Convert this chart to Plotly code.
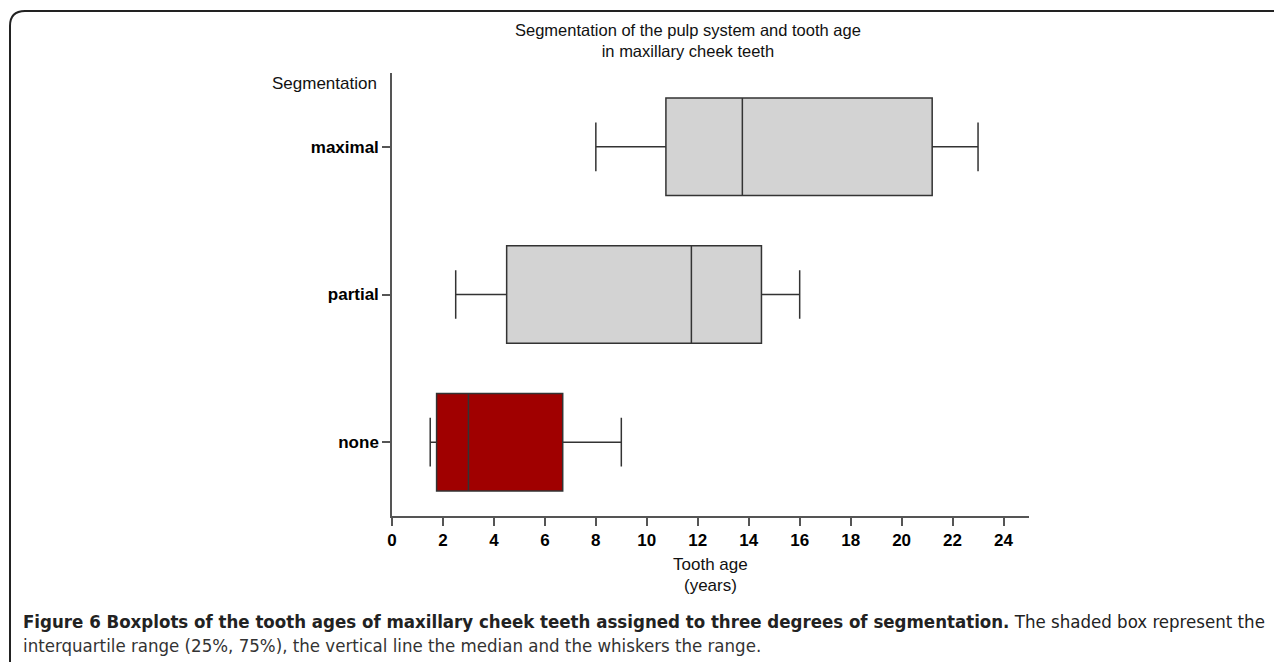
import plotly.graph_objects as go

# ---- data ----
categories = ["none", "partial", "maximal"]
q1_vals = [1.75, 4.5, 10.75]
median_vals = [3.0, 11.75, 13.75]
q3_vals = [6.7, 14.5, 21.2]
low_vals = [1.5, 2.5, 8.0]
high_vals = [9.0, 16.0, 23.0]
fill_colors = ["#a00000", "#d3d3d3", "#d3d3d3"]
x_ticks = list(range(0, 25, 2))

# page offset (body margin) compensation
OFF = 8
W, H = 1282 - OFF, 662 - OFF
L, R, T, B = 392 - OFF, 1029 - OFF, 73 - OFF, 516 - OFF


def px(x):
    return (x - OFF - L) / (R - L)


def py(y):
    return (B - (y - OFF)) / (B - T)


fig = go.Figure()
for i, cat in enumerate(categories):
    fig.add_trace(go.Box(
        y=[cat], q1=[q1_vals[i]], median=[median_vals[i]], q3=[q3_vals[i]],
        lowerfence=[low_vals[i]], upperfence=[high_vals[i]],
        orientation="h", fillcolor=fill_colors[i],
        line=dict(color="#333333", width=1.5),
        width=0.66, whiskerwidth=0.5, boxpoints=False,
        showlegend=False, hoverinfo="skip",
    ))

FONT = "Liberation Sans, Arial, sans-serif"
axis_font = dict(family=FONT, size=17, color="#000000")

fig.update_layout(
    width=W, height=H,
    margin=dict(l=L, r=W - R, t=T, b=H - B, pad=0),
    paper_bgcolor="white", plot_bgcolor="white",
    boxmode="overlay",
    xaxis=dict(
        range=[0, 25], tickvals=x_ticks,
        ticktext=[f"<b>{v}</b>" for v in x_ticks],
        showline=True, linecolor="#555555", linewidth=1.5,
        ticks="outside", ticklen=8, tickcolor="#555555", tickwidth=1.5,
        showgrid=False, zeroline=False, tickfont=axis_font,
    ),
    yaxis=dict(
        type="category", categoryorder="array", categoryarray=categories,
        range=[-0.5, 2.5], tickvals=categories,
        ticktext=[f"<b>{c}</b>" for c in categories],
        showline=True, linecolor="#555555", linewidth=1.5,
        ticks="outside", ticklen=8, tickcolor="#555555", tickwidth=1.5,
        showgrid=False, zeroline=False, tickfont=axis_font,
    ),
    font=dict(family=FONT, color="#111111"),
)

# frame (rounded top-left corner)
fig.add_shape(
    type="path", xref="paper", yref="paper",
    path=(f"M {px(10)},{py(670)} L {px(10)},{py(26)} "
          f"Q {px(10)},{py(11)} {px(25)},{py(11)} L {px(1290)},{py(11)}"),
    line=dict(color="#222222", width=2),
)

txt_font = dict(family=FONT, size=17, color="#111111")
# chart title
fig.add_annotation(
    text="Segmentation of the pulp system and tooth age<br>in maxillary cheek teeth",
    xref="paper", yref="paper", x=px(688), y=py(40), xanchor="center", yanchor="middle",
    showarrow=False, font=dict(family=FONT, size=16.5, color="#111111"),
)
# y label
fig.add_annotation(
    text="Segmentation", xref="paper", yref="paper", x=px(379), y=py(84),
    xanchor="right", yanchor="middle", showarrow=False, font=txt_font,
)
# x title
fig.add_annotation(
    text="Tooth age", xref="paper", yref="paper", x=0.5, y=py(564),
    xanchor="center", yanchor="middle", showarrow=False, font=txt_font,
)
fig.add_annotation(
    text="(years)", xref="paper", yref="paper", x=0.5, y=py(585),
    xanchor="center", yanchor="middle", showarrow=False, font=txt_font,
)
# caption
cap_font = "DejaVu Sans Condensed, Open Sans, sans-serif"
fig.add_annotation(
    text=("<b>Figure 6 Boxplots of the tooth ages of maxillary cheek teeth assigned to "
          "three degrees of segmentation.</b> The shaded box represent the"),
    xref="paper", yref="paper", x=px(21), y=py(621), xanchor="left", yanchor="middle",
    showarrow=False, font=dict(family=cap_font, size=18.5, color="#222222"),
)
fig.add_annotation(
    text="interquartile range (25%, 75%), the vertical line the median and the whiskers the range.",
    xref="paper", yref="paper", x=px(21), y=py(645), xanchor="left", yanchor="middle",
    showarrow=False, font=dict(family=cap_font, size=18.5, color="#333333"),
)

fig.write_html("out.html")
